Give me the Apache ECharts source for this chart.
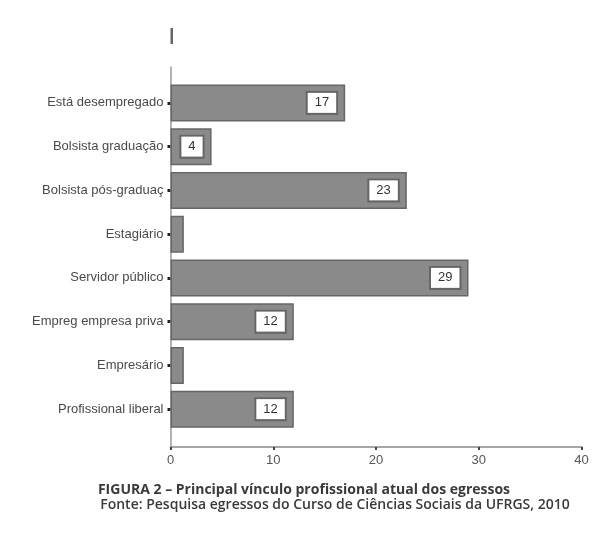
<!DOCTYPE html>
<html>
<head>
<meta charset="utf-8">
<script src="https://cdn.jsdelivr.net/npm/echarts@6/dist/echarts.min.js"></script>
<style>
  html, body { margin: 0; padding: 0; background: #fff; }
  #chart { width: 601px; height: 534px; }
</style>
</head>
<body>
<div id="chart"></div>
<script>
// vinculo profissional dos egressos
var categories = ['Está desempregado', 'Bolsista graduação', 'Bolsista pós-graduaç', 'Estagiário',
    'Servidor público', 'Empreg empresa priva', 'Empresário', 'Profissional liberal'];
var values = [17, 4, 23, 1.3, 29, 12, 1.3, 12];
var valueLabels = ['17', '4', '23', '', '29', '12', '', '12'];
var xTicks = [0, 10, 20, 30, 40];

var labelFont = '"Liberation Sans Narrow", "Liberation Sans", Arial, sans-serif';
var titleFont = '"Open Sans", "Noto Sans", sans-serif';

var barData = values.map(function (v, i) {
    return {
        value: v,
        label: { show: valueLabels[i] !== '' }
    };
});

var myChart = echarts.init(document.getElementById('chart'));
var option = {
    backgroundColor: '#fff',
    animation: false,
    title: [{
        text: 'FIGURA 2 – Principal vínculo profissional atual dos egressos',
        left: 299,
        textAlign: 'center',
        top: 478,
        textStyle: { fontFamily: titleFont, fontSize: 14, fontWeight: 'bold', color: '#3a3a3a', lineHeight: 15 }
    }, {
        text: 'Fonte: Pesquisa egressos do Curso de Ciências Sociais da UFRGS, 2010',
        left: 330,
        textAlign: 'center',
        top: 493,
        textStyle: { fontFamily: titleFont, fontSize: 14, fontWeight: 600, color: '#3a3a3a', lineHeight: 15 }
    }],
    graphic: [{
        type: 'rect',
        shape: { x: 170.5, y: 28, width: 2.5, height: 16 },
        style: { fill: '#666' }
    }],
    grid: [
        { left: 170.5, right: 19.5, top: 81, bottom: 103 },
        { left: 170.5, right: 19.5, top: 67, bottom: 87 }
    ],
    xAxis: [{
        gridIndex: 0,
        type: 'value',
        min: 0,
        max: 40,
        show: false
    }, {
        gridIndex: 1,
        type: 'value',
        min: xTicks[0],
        max: xTicks[xTicks.length - 1],
        interval: 10,
        axisLine: { show: true, lineStyle: { color: '#a6a6a6', width: 2 } },
        axisTick: { show: true, length: 3, lineStyle: { color: '#444', width: 2 } },
        axisLabel: {
            margin: 7,
            color: '#555',
            fontFamily: labelFont,
            fontSize: 13
        },
        splitLine: { show: false }
    }],
    yAxis: [{
        gridIndex: 0,
        type: 'category',
        inverse: true,
        data: categories,
        axisLine: { show: false },
        axisTick: { show: true, alignWithLabel: true, length: 3, lineStyle: { color: '#222', width: 3 } },
        axisLabel: {
            margin: 7,
            color: '#4a4a4a',
            fontFamily: labelFont,
            fontSize: 13
        },
        splitLine: { show: false }
    }, {
        gridIndex: 1,
        type: 'value',
        min: 0,
        max: 1,
        axisLine: { show: true, lineStyle: { color: '#9a9a9a', width: 1.5 } },
        axisTick: { show: false },
        axisLabel: { show: false },
        splitLine: { show: false }
    }],
    series: [{
        name: 'egressos',
        type: 'bar',
        xAxisIndex: 0,
        yAxisIndex: 0,
        barWidth: 37,
        data: barData,
        itemStyle: {
            color: '#8a8a8a',
            borderColor: '#666',
            borderWidth: 1.5
        },
        label: {
            position: 'insideRight',
            distance: 9,
            formatter: function (p) { return valueLabels[p.dataIndex]; },
            backgroundColor: '#fff',
            borderColor: '#666',
            borderWidth: 2,
            padding: [4, 7, 3, 7],
            color: '#333',
            fontFamily: labelFont,
            fontSize: 13
        }
    }]
};
myChart.setOption(option);
</script>
</body>
</html>
